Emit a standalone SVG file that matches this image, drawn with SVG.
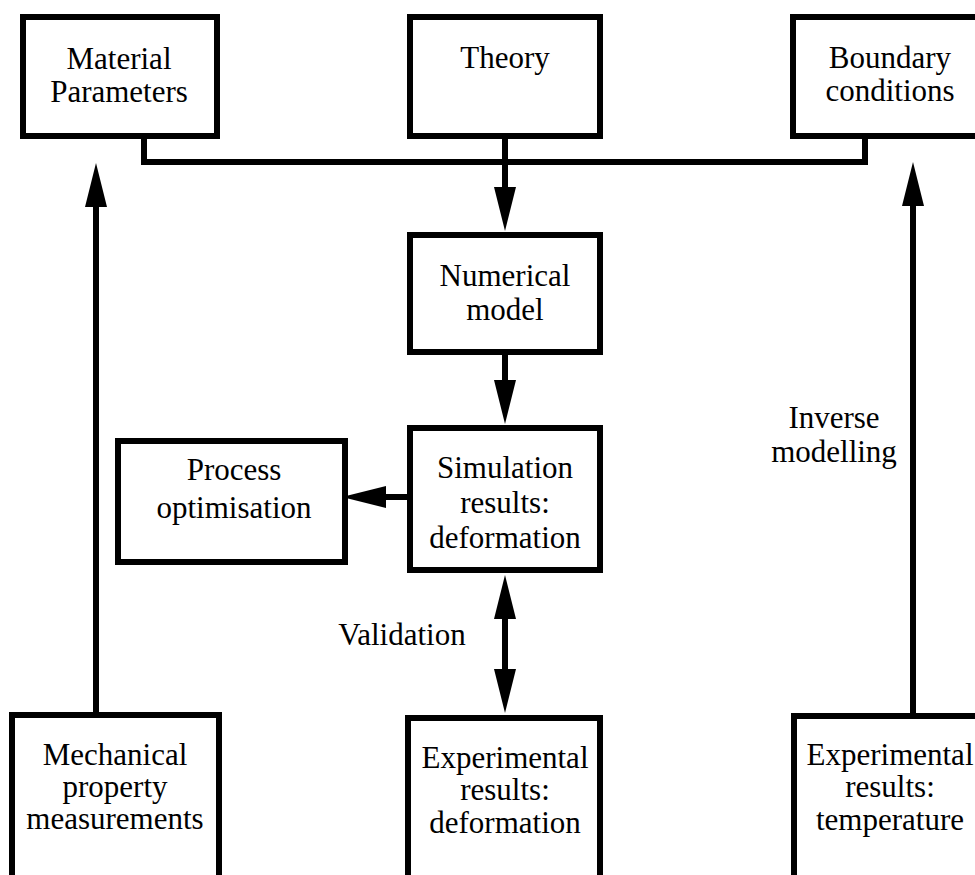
<svg xmlns="http://www.w3.org/2000/svg" width="975" height="875" viewBox="0 0 975 875">
<style>
.box{fill:#fff;stroke:#000;stroke-width:6}
.con{fill:none;stroke:#000;stroke-width:6;stroke-linejoin:miter}
text{font-family:"Liberation Serif","Times New Roman",serif;font-size:31px;fill:#000;text-anchor:middle}
</style>
<defs>
<marker id="ah" viewBox="0 0 44 22" refX="14" refY="11" markerWidth="44" markerHeight="22" markerUnits="userSpaceOnUse" orient="auto-start-reverse">
<path d="M0,0 L44,11 L0,22 z" fill="#000"/>
</marker>
</defs>
<rect width="975" height="875" fill="#fff"/>
<g id="connectors">
<polyline class="con" points="144,137 144,162 865,162 865,137"/>
<line class="con" x1="505" y1="136" x2="505" y2="201" marker-end="url(#ah)"/>
<line class="con" x1="505" y1="353" x2="505" y2="394" marker-end="url(#ah)"/>
<line class="con" x1="409" y1="497" x2="372" y2="497" marker-end="url(#ah)"/>
<line class="con" x1="505" y1="605" x2="505" y2="683" marker-start="url(#ah)" marker-end="url(#ah)"/>
<line class="con" x1="96" y1="712" x2="96" y2="193" marker-end="url(#ah)"/>
<line class="con" x1="913" y1="714" x2="913" y2="192" marker-end="url(#ah)"/>
</g>
<g id="material">
<rect class="box" x="23" y="17" width="194" height="119"/>
<text x="119" y="69">Material</text>
<text x="119" y="102">Parameters</text>
</g>
<g id="theory">
<rect class="box" x="410" y="17" width="190" height="119"/>
<text x="505" y="68">Theory</text>
</g>
<g id="boundary">
<rect class="box" x="793" y="17" width="200" height="119"/>
<text x="890" y="68">Boundary</text>
<text x="890" y="101">conditions</text>
</g>
<g id="numerical">
<rect class="box" x="410" y="235" width="190" height="117"/>
<text x="505" y="286">Numerical</text>
<text x="505" y="320">model</text>
</g>
<g id="simulation">
<rect class="box" x="410" y="428" width="190" height="142"/>
<text x="505" y="478">Simulation</text>
<text x="505" y="513">results:</text>
<text x="505" y="548">deformation</text>
</g>
<g id="process">
<rect class="box" x="118" y="441" width="227" height="121"/>
<text x="234" y="480">Process</text>
<text x="234" y="518">optimisation</text>
</g>
<g id="validation-label">
<text x="402" y="645">Validation</text>
</g>
<g id="inverse-label">
<text x="834" y="428">Inverse</text>
<text x="834" y="462">modelling</text>
</g>
<g id="mechanical">
<rect class="box" x="12" y="715" width="207" height="200"/>
<text x="115" y="765">Mechanical</text>
<text x="115" y="797">property</text>
<text x="115" y="829">measurements</text>
</g>
<g id="exp-deformation">
<rect class="box" x="408" y="718" width="192" height="200"/>
<text x="505" y="768">Experimental</text>
<text x="505" y="800">results:</text>
<text x="505" y="833">deformation</text>
</g>
<g id="exp-temperature">
<rect class="box" x="794" y="716" width="200" height="200"/>
<text x="890" y="765">Experimental</text>
<text x="890" y="797">results:</text>
<text x="890" y="830">temperature</text>
</g>
</svg>
